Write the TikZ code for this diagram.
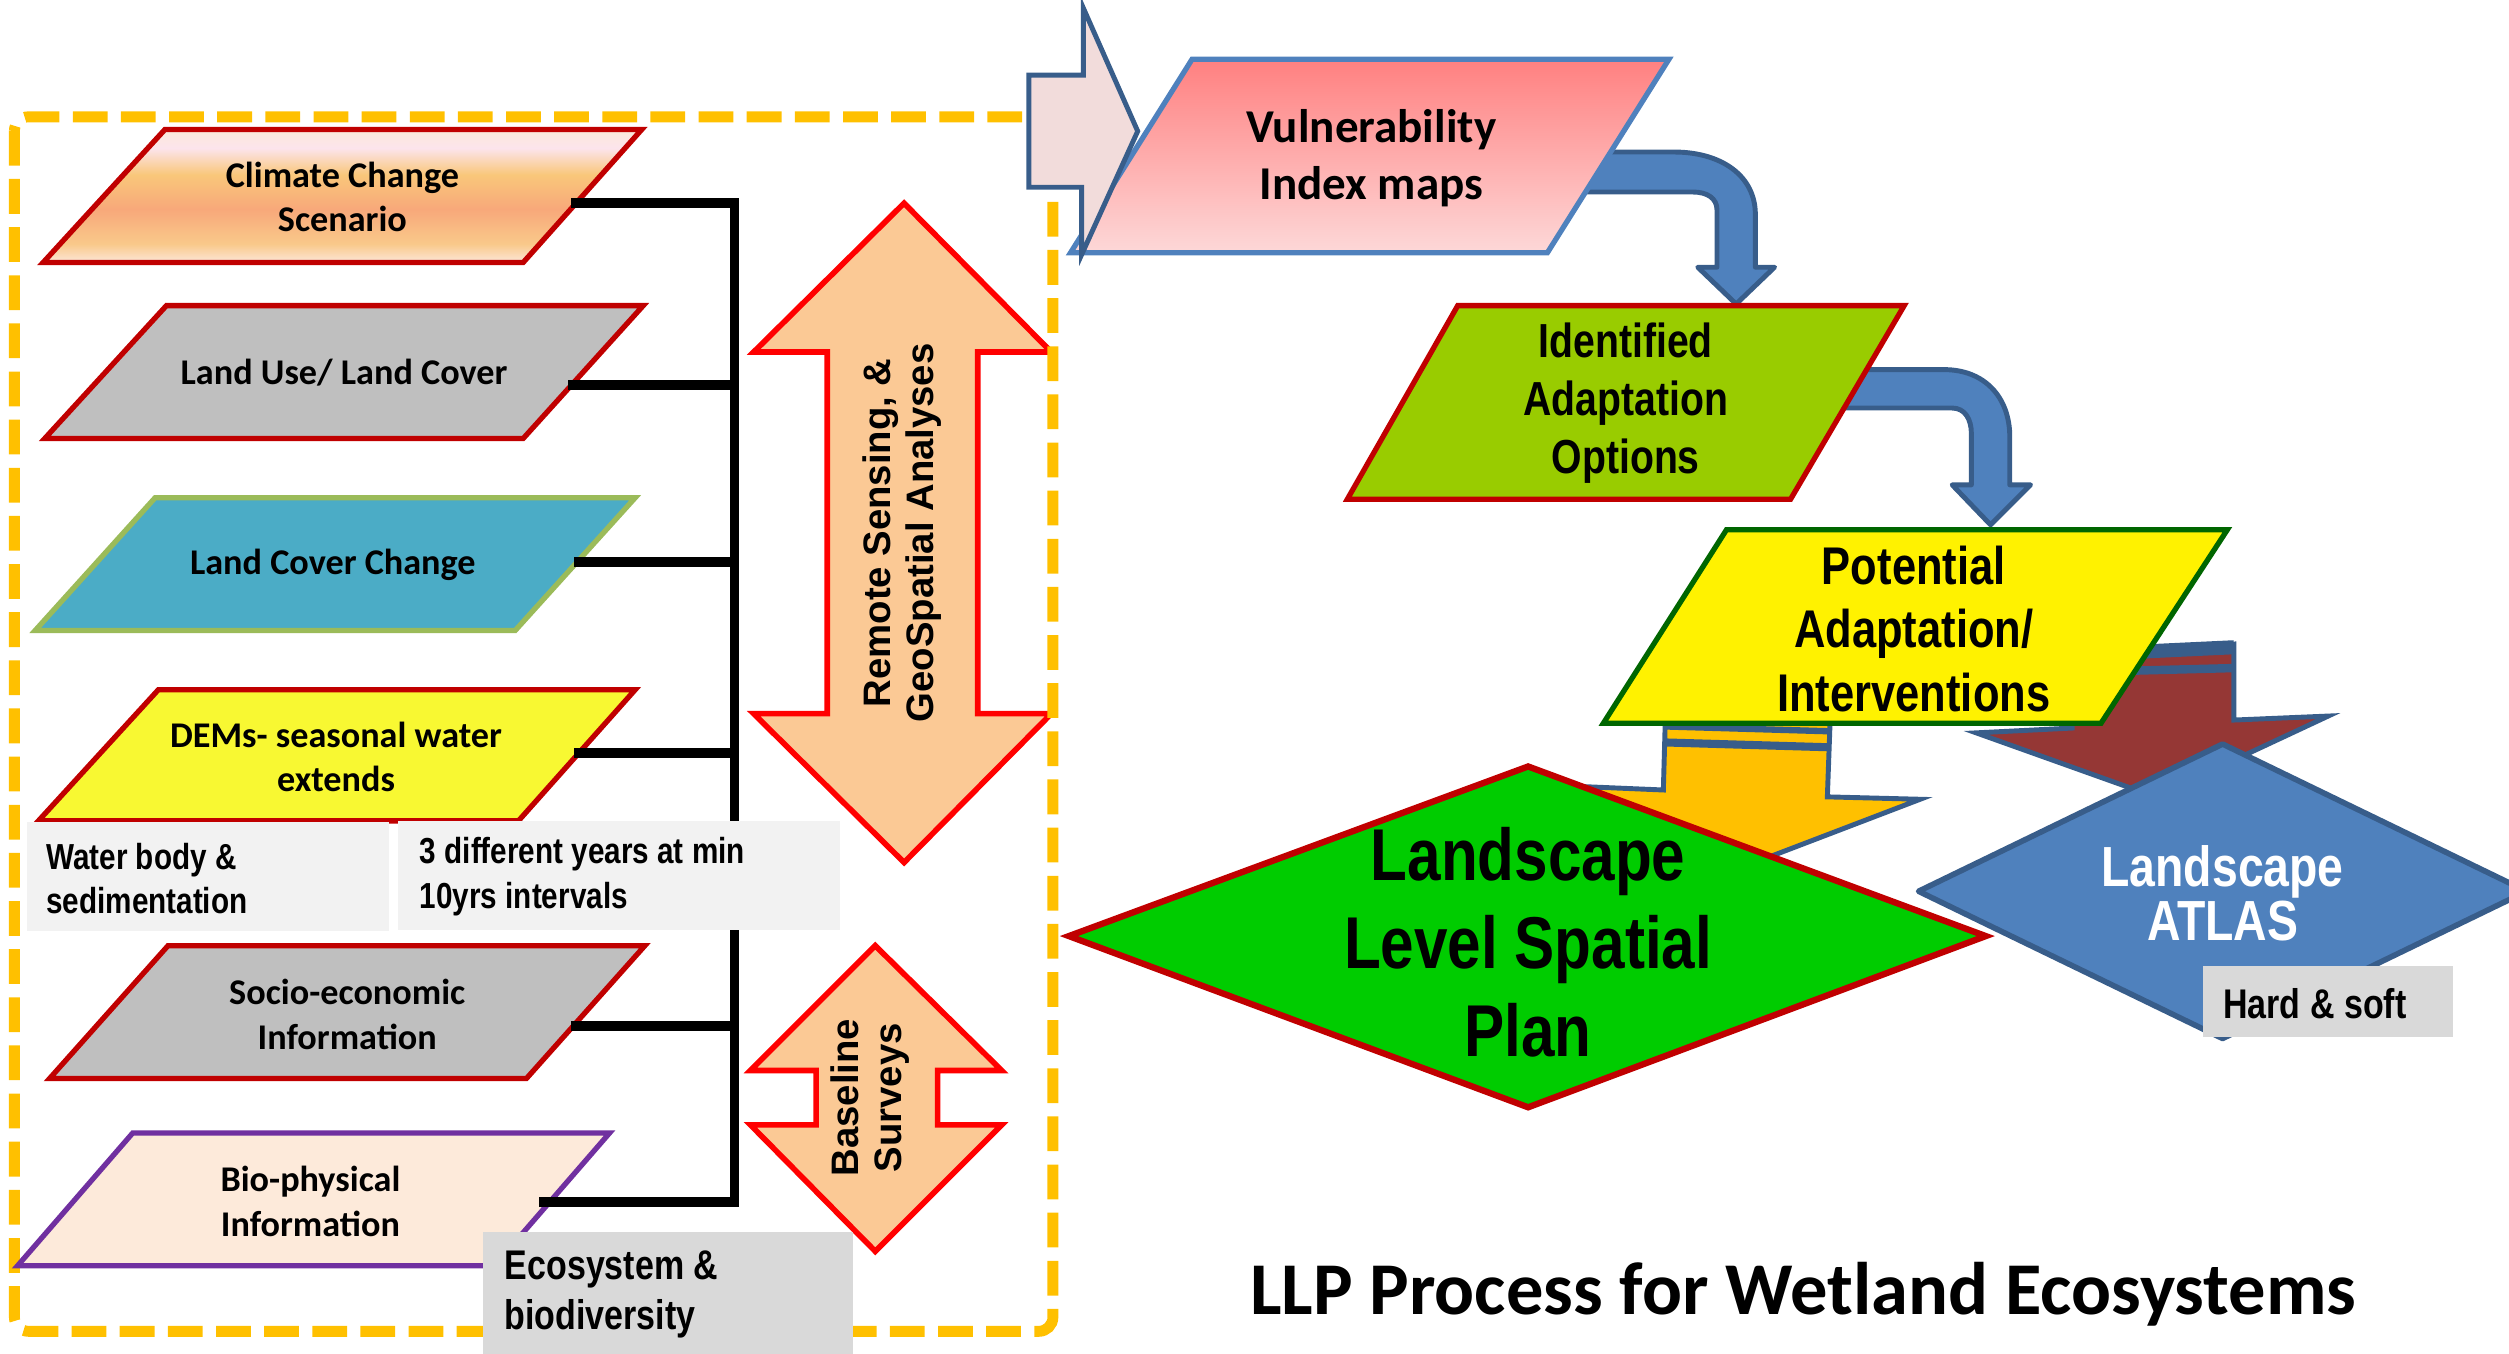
\documentclass[tikz,border=0pt]{standalone}
\usepackage{fontspec}
\setmainfont{Carlito}
\newfontfamily\narrowfont[FakeStretch=0.82]{Liberation Sans}
\newfontfamily\arialfont{Liberation Sans}
\definecolor{dashor}{HTML}{FFC000}
\definecolor{darkred}{HTML}{C00000}
\definecolor{boxgray}{HTML}{BFBFBF}
\definecolor{tealfill}{HTML}{4BACC6}
\definecolor{olivegr}{HTML}{9BBB59}
\definecolor{demyellow}{HTML}{F8F832}
\definecolor{biofill}{HTML}{FDEADA}
\definecolor{purp}{HTML}{7030A0}
\definecolor{lightbox}{HTML}{F2F2F2}
\definecolor{midbox}{HTML}{D9D9D9}
\definecolor{peach}{HTML}{FBC995}
\definecolor{pinkarr}{HTML}{F2DCDB}
\definecolor{navyb}{HTML}{385D8A}
\definecolor{blueb}{HTML}{4F81BD}
\definecolor{vultop}{HTML}{FF8080}
\definecolor{vulbot}{HTML}{FDD8D8}
\definecolor{limeg}{HTML}{99CC00}
\definecolor{potgreen}{HTML}{006600}
\definecolor{orarr}{HTML}{FFC000}
\definecolor{brick}{HTML}{953735}
\definecolor{diamgreen}{HTML}{00CC00}
\definecolor{clA}{HTML}{FCE6D8}
\definecolor{clB}{HTML}{F9C98A}
\definecolor{clC}{HTML}{F8A87A}
\definecolor{clD}{HTML}{F9C77A}
\definecolor{clE}{HTML}{FCE4EC}
\definecolor{clF}{HTML}{FBE9D9}
\pgfdeclareverticalshading{climateshade}{100bp}{color(0bp)=(clA); color(25bp)=(clA); color(32bp)=(clB); color(45bp)=(clC); color(58bp)=(clD); color(68bp)=(clE); color(75bp)=(clF); color(100bp)=(clF)}
\tikzset{
  parabox/.style={line width=1.5pt, line join=miter},
  busline/.style={line width=2.8pt, black},
  dblarrow/.style={fill=peach, draw=red, line width=1.6pt, line join=miter},
  uarrow/.style={fill=blueb, draw=navyb, line width=1.4pt, line join=round},
  blockarr/.style={draw=navyb, line width=1.4pt, line join=miter},
  ptext/.style={font=\bfseries\fontsize{10.3}{12.7}\selectfont, align=center, inner sep=0pt},
  notetext/.style={font=\narrowfont\bfseries\fontsize{10.3}{12.7}\selectfont, align=left, inner sep=0pt, anchor=west},
  bignote/.style={font=\narrowfont\bfseries\fontsize{11.8}{14}\selectfont, align=left, inner sep=0pt, anchor=west},
  rottext/.style={font=\arialfont\bfseries\fontsize{10.9}{12.2}\selectfont, align=center, inner sep=0pt, rotate=90},
  dashborder/.style={draw=dashor, line width=3.1pt, dash pattern=on 9.9pt off 3.8pt, rounded corners=4},
}
\begin{document}
\begin{tikzpicture}[x=0.016cm,y=-0.016cm]
\useasboundingbox (0,0) rectangle (1568,846);

% ---------- vertical double arrows ----------
\path[dblarrow] (565,127) -- (657,220) -- (611,220) -- (611,446) -- (657,446) -- (565,539)
  -- (471,446) -- (517,446) -- (517,220) -- (471,220) -- cycle;
\node[rottext] (rs) at (564,333) {Remote Sensing, \&\\GeoSpatial Analyses};
\path[dblarrow] (547,591) -- (626,669) -- (586,669) -- (586,703) -- (626,703) -- (547,782)
  -- (469,703) -- (510,703) -- (510,669) -- (469,669) -- cycle;
\node[rottext] (bs) at (544,686) {Baseline\\Surveys};

% ---------- dashed frame ----------
\path[dashborder] (9,73) rectangle (658,832);

% ---------- left parallelograms ----------
\shadedraw[shading=climateshade, draw=darkred, parabox] (103,81) -- (401,81) -- (327,164) -- (27,164) -- cycle;
\node[ptext] (climate) at (214,123) {Climate Change\\Scenario};
\filldraw[fill=boxgray, draw=darkred, parabox] (104,191) -- (402,191) -- (327,274) -- (28,274) -- cycle;
\node[ptext] (landuse) at (215,233) {Land Use/ Land Cover};
\filldraw[fill=tealfill, draw=olivegr, parabox] (97,311) -- (397,311) -- (322,394) -- (22,394) -- cycle;
\node[ptext] (lcc) at (208,353) {Land Cover Change};
\filldraw[fill=demyellow, draw=darkred, parabox] (99,431) -- (397,431) -- (324,513) -- (24,513) -- cycle;
\node[ptext] (dem) at (210,473) {DEMs- seasonal water\\extends};
\filldraw[fill=boxgray, draw=darkred, parabox] (105,591) -- (403,591) -- (329,674) -- (31,674) -- cycle;
\node[ptext] (socio) at (217,634) {Socio-economic\\Information};
\filldraw[fill=biofill, draw=purp, parabox] (83,708) -- (381,708) -- (309,791) -- (11,791) -- cycle;
\node[ptext] (bio) at (194,751) {Bio-physical\\Information};

% ---------- connectors ----------
\coordinate (cc) at (357,127);
\coordinate (cu) at (355,240.5);
\coordinate (cl) at (359,351);
\coordinate (cd) at (359,470.5);
\coordinate (cs) at (357,641);
\coordinate (cb) at (337,751);
\coordinate (busT) at (459,127);
\coordinate (busB) at (459,751);
\draw[busline] (cc) -- (busT) -- (busB) -- (cb);
\draw[busline] (cu) -- (cu -| busT);
\draw[busline] (cl) -- (cl -| busT);
\draw[busline] (cd) -- (cd -| busT);
\draw[busline] (cs) -- (cs -| busT);

% ---------- note boxes ----------
\fill[lightbox] (17,514) rectangle (243,582);
\node[notetext] (water) at (28.5,549) {Water body \&\\sedimentation};
\fill[lightbox] (249,513) rectangle (525,581);
\node[notetext] (years) at (262,548) {3 different years at min\\10yrs intervals};
\fill[midbox] (302,770) rectangle (533,846);
\node[bignote] (eco) at (315,809) {Ecosystem \&\\biodiversity};

% ---------- blue U-turn arrows ----------
\path[uarrow] (985,95) -- (1046,95) .. controls (1076,95) and (1097,110) .. (1097,134)
  -- (1097,167) -- (1109,167) -- (1085,190) -- (1061,167) -- (1073,167) -- (1073,131)
  .. controls (1073,124) and (1067,120) .. (1058,120) -- (985,120) -- cycle;
\path[uarrow] (1140,231) -- (1215,231) .. controls (1240,231) and (1256,248) .. (1256,273)
  -- (1256,303) -- (1269,303) -- (1244,328) -- (1220,303) -- (1232,303) -- (1232,271)
  .. controls (1232,262) and (1228,255) .. (1220,255) -- (1140,255) -- cycle;

% ---------- vulnerability ----------
\shadedraw[top color=vultop, bottom color=vulbot, draw=blueb, parabox] (745,37) -- (1043,37) -- (967,158) -- (669,158) -- cycle;
\node[font=\bfseries\fontsize{13.4}{16.3}\selectfont, align=center, inner sep=0pt] (vul) at (857,99) {Vulnerability\\Index maps};
\path[blockarr, fill=pinkarr] (643,47) -- (677,47) -- (677,5) -- (711,82) -- (676,159) -- (676,117) -- (643,117) -- cycle;

% ---------- identified ----------
\filldraw[fill=limeg, draw=darkred, parabox] (911,191) -- (1190,191) -- (1119,312) -- (842,312) -- cycle;
\node[font=\narrowfont\bfseries\fontsize{13.6}{16.5}\selectfont, align=center, inner sep=0pt] (ident) at (1016,252) {Identified\\Adaptation\\Options};

% ---------- arrows behind potential ----------
\path[blockarr, fill=brick] (1295,410) -- (1396,402.5) -- (1396,450) -- (1455,447.5) -- (1347,498)
  -- (1235,458) -- (1295,455) -- cycle;
\draw[navyb, line width=4pt] (1300,409) -- (1396,404.5);
\draw[navyb, line width=2.4pt] (1300,420) -- (1396,417.5);
\path[blockarr, fill=orarr] (1041,440) -- (1144,443) -- (1142,498) -- (1200,499.5) -- (1094,540)
  -- (992,491.7) -- (1039.5,493.7) -- cycle;
\draw[navyb, line width=1.8pt] (1041,454) -- (1143,457);
\draw[navyb, line width=2.3pt] (1041,464) -- (1143,467);

% ---------- potential ----------
\filldraw[fill=yellow, draw=potgreen, parabox] (1079,331) -- (1392,331) -- (1313,452) -- (1002,452) -- cycle;
\node[font=\narrowfont\bfseries\fontsize{15.1}{18.1}\selectfont, align=center, inner sep=0pt] (pot) at (1196,393) {Potential\\Adaptation/\\Interventions};

% ---------- diamonds ----------
\filldraw[fill=blueb, draw=navyb, line width=1.6pt, line join=round] (1389,465) -- (1579,557) -- (1389,649) -- (1199,557) -- cycle;
\node[font=\narrowfont\bfseries\fontsize{16.1}{15.4}\selectfont, align=center, inner sep=0pt, text=white] (atlas) at (1389,558) {Landscape\\ATLAS};
\fill[midbox] (1377,604) rectangle (1533,648);
\node[font=\narrowfont\bfseries\fontsize{11.8}{14}\selectfont, anchor=west, inner sep=0pt] (hard) at (1389,627) {Hard \& soft};

\filldraw[fill=diamgreen, draw=darkred, line width=1.8pt, line join=miter] (955,479) -- (1241,585) -- (955,692) -- (668,585) -- cycle;
\node[font=\narrowfont\bfseries\fontsize{20.9}{25}\selectfont, align=center, inner sep=0pt] (llp) at (955,589) {Landscape\\Level Spatial\\Plan};

% ---------- title ----------
\node[font=\bfseries\fontsize{21.2}{25}\selectfont, inner sep=0pt] (title) at (1127,809) {LLP Process for Wetland Ecosystems};
\end{tikzpicture}
\end{document}
